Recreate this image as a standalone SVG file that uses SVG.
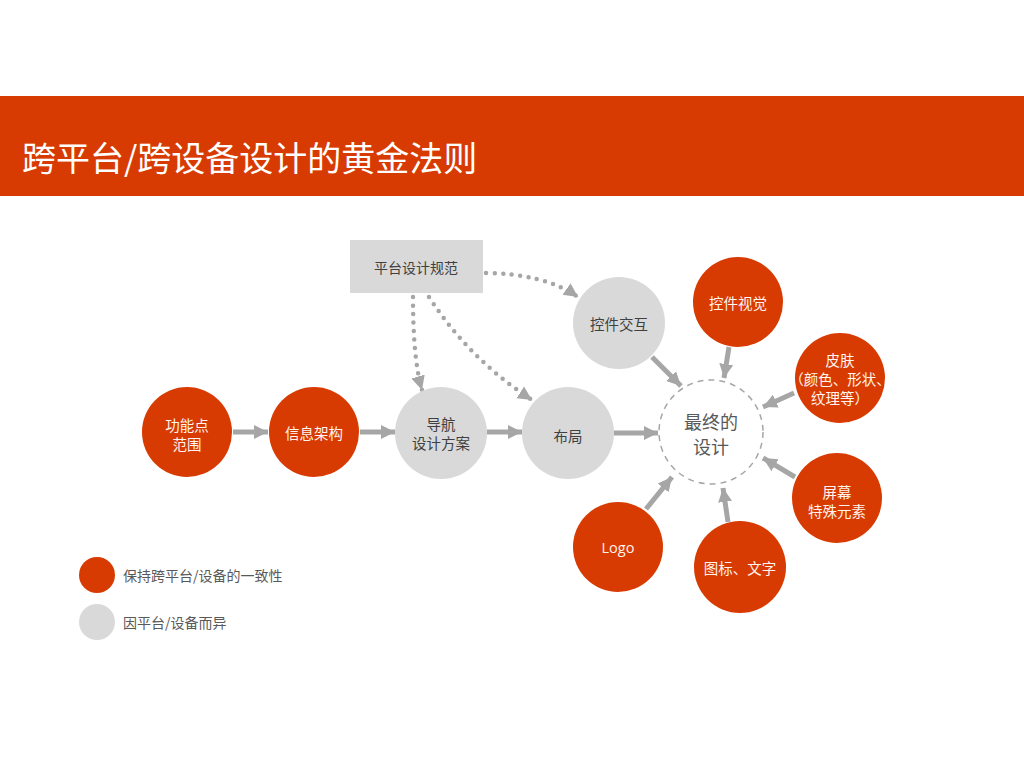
<svg xmlns="http://www.w3.org/2000/svg" width="1024" height="768" viewBox="0 0 1024 768">
<defs>
<style>
text{font-family:"Noto Sans CJK SC","Microsoft YaHei",sans-serif;dominant-baseline:central;text-anchor:middle}
.o{fill:#D83B01}
.g{fill:#D9D9D9}
.wt{fill:#FFF4EE;font-size:14.5px}
.dt{fill:#404040;font-size:14.5px}
.lt{fill:#595959;font-size:14px;text-anchor:start}
.ar{stroke:#A6A6A6;stroke-width:5;fill:none;marker-end:url(#ah)}
.dot{stroke:#A6A6A6;stroke-width:4.5;fill:none;stroke-dasharray:0 8.5;stroke-linecap:round;marker-end:url(#ah)}
</style>
<marker id="ah" markerUnits="userSpaceOnUse" markerWidth="16" markerHeight="16" viewBox="0 0 16 16" refX="14" refY="8" orient="auto">
<path d="M0,1 L14,8 L0,15 Z" fill="#A6A6A6"/>
</marker>
</defs>
<rect width="1024" height="768" fill="#FFFFFF"/>
<g id="header">
<rect x="0" y="96" width="1024" height="100" fill="#D83B01"/>
<text x="22" y="156" style="font-size:34px;fill:#FFFFFF;text-anchor:start">跨平台/跨设备设计的黄金法则</text>
</g>
<g id="connectors">
<line class="ar" x1="233" y1="432" x2="268" y2="432"/>
<line class="ar" x1="360" y1="432" x2="395" y2="432"/>
<line class="ar" x1="487" y1="432" x2="522" y2="432"/>
<line class="ar" x1="614" y1="433" x2="658" y2="433"/>
<line class="ar" x1="652" y1="357" x2="681" y2="386"/>
<line class="ar" x1="729" y1="347" x2="724" y2="378"/>
<line class="ar" x1="794" y1="393" x2="763" y2="407"/>
<line class="ar" x1="795" y1="477" x2="763" y2="458"/>
<line class="ar" x1="646" y1="509" x2="672" y2="477"/>
<line class="ar" x1="728" y1="522" x2="723" y2="488"/>
<path class="dot" d="M486,273 Q545,274 578,297"/>
<path class="dot" d="M413,297 Q413,360 422,390"/>
<path class="dot" d="M429,297 Q470,360 532,400"/>
</g>
<g id="n-platform-spec">
<rect x="350" y="240" width="133" height="53" fill="#D9D9D9"/>
<text class="dt" x="416" y="267" style="font-size:14px">平台设计规范</text>
</g>
<g id="n-features">
<circle class="o" cx="187" cy="432" r="45"/>
<text class="wt" x="187" y="424">功能点</text>
<text class="wt" x="187" y="443">范围</text>
</g>
<g id="n-ia">
<circle class="o" cx="314" cy="432" r="45"/>
<text class="wt" x="314" y="432">信息架构</text>
</g>
<g id="n-nav">
<circle class="g" cx="441" cy="433" r="46"/>
<text class="dt" x="441" y="423">导航</text>
<text class="dt" x="441" y="442">设计方案</text>
</g>
<g id="n-layout">
<circle class="g" cx="568" cy="433" r="46"/>
<text class="dt" x="568" y="435">布局</text>
</g>
<g id="n-control-interaction">
<circle class="g" cx="619" cy="323" r="46"/>
<text class="dt" x="619" y="323">控件交互</text>
</g>
<g id="n-final">
<circle cx="711" cy="432" r="52" fill="#FFFFFF" stroke="#A6A6A6" stroke-width="1.5" stroke-dasharray="6 5"/>
<text x="711" y="421" style="fill:#595959;font-size:18px">最终的</text>
<text x="711" y="446" style="fill:#595959;font-size:18px">设计</text>
</g>
<g id="n-control-visual">
<circle class="o" cx="738" cy="302" r="45"/>
<text class="wt" x="738" y="302">控件视觉</text>
</g>
<g id="n-skin">
<circle class="o" cx="840" cy="378" r="45"/>
<text class="wt" x="840" y="359">皮肤</text>
<text class="wt" x="840" y="378">（颜色、形状、</text>
<text class="wt" x="840" y="397">纹理等）</text>
</g>
<g id="n-screen">
<circle class="o" cx="837" cy="498" r="45"/>
<text class="wt" x="837" y="491">屏幕</text>
<text class="wt" x="837" y="510">特殊元素</text>
</g>
<g id="n-icons">
<circle class="o" cx="740" cy="567" r="46"/>
<text class="wt" x="740" y="567">图标、文字</text>
</g>
<g id="n-logo">
<circle class="o" cx="618" cy="547" r="45"/>
<text class="wt" x="618" y="547" style="font-family:'Open Sans','Noto Sans',sans-serif">Logo</text>
</g>
<g id="legend">
<circle class="o" cx="97" cy="575" r="18"/>
<text class="lt" x="123" y="575">保持跨平台/设备的一致性</text>
<circle class="g" cx="97" cy="622" r="18"/>
<text class="lt" x="123" y="622">因平台/设备而异</text>
</g>
</svg>
